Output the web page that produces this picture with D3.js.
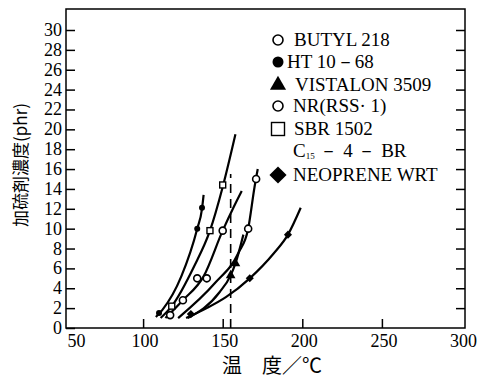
<!DOCTYPE html>
<html>
<head>
<meta charset="utf-8">
<script src="https://cdn.jsdelivr.net/npm/d3@7"></script>
<style>
  body { margin: 0; background: #fff; }
  text { font-family: "Liberation Serif", "DejaVu Serif", serif; fill: #000; }
</style>
</head>
<body>
<div id="chart"></div>
<script>
// temperature (°C) vs sulfur concentration (phr)
const xTicks = [50, 100, 150, 200, 250, 300];
const yTicks = d3.range(0, 31, 2);

const butyl = [[122, 1.0], [145, 4.5], [160, 7.6], [166, 10], [170, 14.2], [172, 16]];
const butylPts = [[166, 10], [171, 15]];
const ht = [[108, 1.1], [112, 1.8], [124, 5.2], [134, 10], [137, 12], [138, 13.4]];
const htPts = [[110, 1.5], [134, 10], [137, 12.1]];
const vistalon = [[128, 1.0], [148, 3.6], [155, 5.3], [158, 6.5], [163, 9.4]];
const vistalonPts = [[155, 5.3], [158, 6.5]];
const nr = [[114, 1.0], [125, 2.8], [138, 5.2], [150, 9.8], [157, 12.2], [162, 13.8]];
const nrPts = [[125, 2.8], [134, 5], [140, 5], [150, 9.8], [117, 1.3]];
const sbr = [[111, 1.0], [118, 2.2], [132, 6.2], [142, 9.8], [150, 14.2], [158, 19.5]];
const sbrPts = [[118, 2.2], [142, 9.8], [150, 14.4]];
const c15 = [[155, 0], [155, 15.5]];
const neoprene = [[127, 1.0], [140, 2.0], [152, 3.1], [167, 5.0], [182, 7.5], [191, 9.4], [199, 12.1]];
const neoprenePts = [[130, 1.4], [167, 5.0], [191, 9.4]];

const legendNames = ['BUTYL 218', 'HT 10－68', 'VISTALON 3509', 'NR(RSS· 1)', 'SBR 1502', 'C15－4－BR', 'NEOPRENE WRT'];
const legendSymbols = ['openCircle', 'dot', 'triangle', 'openCircle', 'square', 'none', 'diamond'];

const width = 477, height = 378;
const svg = d3.select('#chart').append('svg')
  .attr('width', width)
  .attr('height', height);

const x = d3.scaleLinear().domain([50, 300]).range([63.5, 461.5]);
const y = d3.scaleLinear().domain([0, 30]).range([328, 30]);

// frame
svg.append('rect')
  .attr('x', 66).attr('y', 9)
  .attr('width', 399).attr('height', 319)
  .attr('fill', 'none').attr('stroke', '#000').attr('stroke-width', 1.5);

// y ticks on both sides, pointing inward
const yAxisL = svg.append('g').attr('transform', 'translate(66,0)')
  .call(d3.axisRight(y).tickValues(yTicks).tickSize(9).tickFormat(''));
const yAxisR = svg.append('g').attr('transform', 'translate(465,0)')
  .call(d3.axisLeft(y).tickValues(yTicks.filter(d => d > 0)).tickSize(9).tickFormat(''));
[yAxisL, yAxisR].forEach(g => {
  g.select('.domain').remove();
  g.selectAll('line').attr('stroke-width', 1.5);
});

svg.append('g').selectAll('text')
  .data(yTicks)
  .join('text')
  .attr('x', 62)
  .attr('y', d => y(d) + 6)
  .attr('text-anchor', 'end')
  .style('font-size', '18px')
  .text(d => d);

// x ticks pointing up
const xAxis = svg.append('g').attr('transform', 'translate(0,328)')
  .call(d3.axisTop(x).tickValues(xTicks.filter(d => d > 50 && d < 300)).tickSize(9).tickFormat(''));
xAxis.select('.domain').remove();
xAxis.selectAll('line').attr('stroke-width', 1.5);

svg.append('g').selectAll('text')
  .data(xTicks)
  .join('text')
  .attr('x', d => x(d) + (d === 50 ? 13 : 2))
  .attr('y', 347)
  .attr('text-anchor', 'middle')
  .style('font-size', '18px')
  .text(d => d);

// axis titles
svg.append('text')
  .attr('x', 272).attr('y', 373)
  .attr('text-anchor', 'middle')
  .style('font-family', '"Noto Sans CJK JP", serif')
  .style('font-size', '20px')
  .text('温　度／℃');

svg.append('text')
  .attr('transform', 'translate(27,165) rotate(-90)')
  .attr('text-anchor', 'middle')
  .style('font-family', '"Noto Sans CJK JP", serif')
  .style('font-size', '17px')
  .text('加硫剤濃度(phr)');

// curves
const line = d3.line().x(d => x(d[0])).y(d => y(d[1])).curve(d3.curveMonotoneX);
const plot = svg.append('g');
[butyl, ht, vistalon, nr, sbr, neoprene].forEach(s => {
  plot.append('path').datum(s)
    .attr('d', line)
    .attr('fill', 'none').attr('stroke', '#000').attr('stroke-width', 2.2);
});
plot.append('path').datum(c15)
  .attr('d', d3.line().x(d => x(d[0])).y(d => y(d[1])))
  .attr('fill', 'none').attr('stroke', '#000').attr('stroke-width', 1.6)
  .attr('stroke-dasharray', '9,6');

function marker(g, kind, cx, cy, s) {
  if (kind === 'openCircle') {
    g.append('circle').attr('cx', cx).attr('cy', cy).attr('r', s / 2)
      .attr('fill', '#fff').attr('stroke', '#000').attr('stroke-width', 1.6);
  } else if (kind === 'dot') {
    g.append('circle').attr('cx', cx).attr('cy', cy).attr('r', s / 2).attr('fill', '#000');
  } else if (kind === 'triangle') {
    g.append('path').attr('transform', `translate(${cx},${cy})`)
      .attr('d', d3.symbol(d3.symbolTriangle, s * s * 0.5)).attr('fill', '#000');
  } else if (kind === 'square') {
    g.append('rect').attr('x', cx - s / 2).attr('y', cy - s / 2)
      .attr('width', s).attr('height', s)
      .attr('fill', '#fff').attr('stroke', '#000').attr('stroke-width', 1.4);
  } else if (kind === 'diamond') {
    g.append('path').attr('transform', `translate(${cx},${cy}) rotate(45)`)
      .attr('d', `M${-s / 2.8},${-s / 2.8}h${s / 1.4}v${s / 1.4}h${-s / 1.4}z`).attr('fill', '#000');
  }
}

butylPts.forEach(d => marker(plot, 'openCircle', x(d[0]), y(d[1]), 7));
htPts.forEach(d => marker(plot, 'dot', x(d[0]), y(d[1]), 6));
vistalonPts.forEach(d => marker(plot, 'triangle', x(d[0]), y(d[1]), 9));
nrPts.forEach(d => marker(plot, 'openCircle', x(d[0]), y(d[1]), 7));
sbrPts.forEach(d => marker(plot, 'square', x(d[0]), y(d[1]), 6));
neoprenePts.forEach(d => marker(plot, 'diamond', x(d[0]), y(d[1]), 8));

// legend
const legend = svg.append('g');
const rowY = [46, 68, 91, 112, 135, 157, 181];
const textX = [294, 287, 295, 293, 294, 293, 293];
const symSize = [10, 11, 15, 10, 13, 0, 17];
legendNames.forEach((name, i) => {
  marker(legend, legendSymbols[i], 278, rowY[i] - 6, symSize[i]);
  const t = legend.append('text')
    .attr('x', textX[i]).attr('y', rowY[i])
    .style('font-size', '19px');
  if (name.startsWith('C15')) {
    t.append('tspan').text('C');
    t.append('tspan').attr('dy', 2).style('font-size', '9px').text('15');
    t.append('tspan').attr('dy', -2).text(' －  4 － BR');
  } else {
    t.text(name);
  }
});
</script>
</body>
</html>
